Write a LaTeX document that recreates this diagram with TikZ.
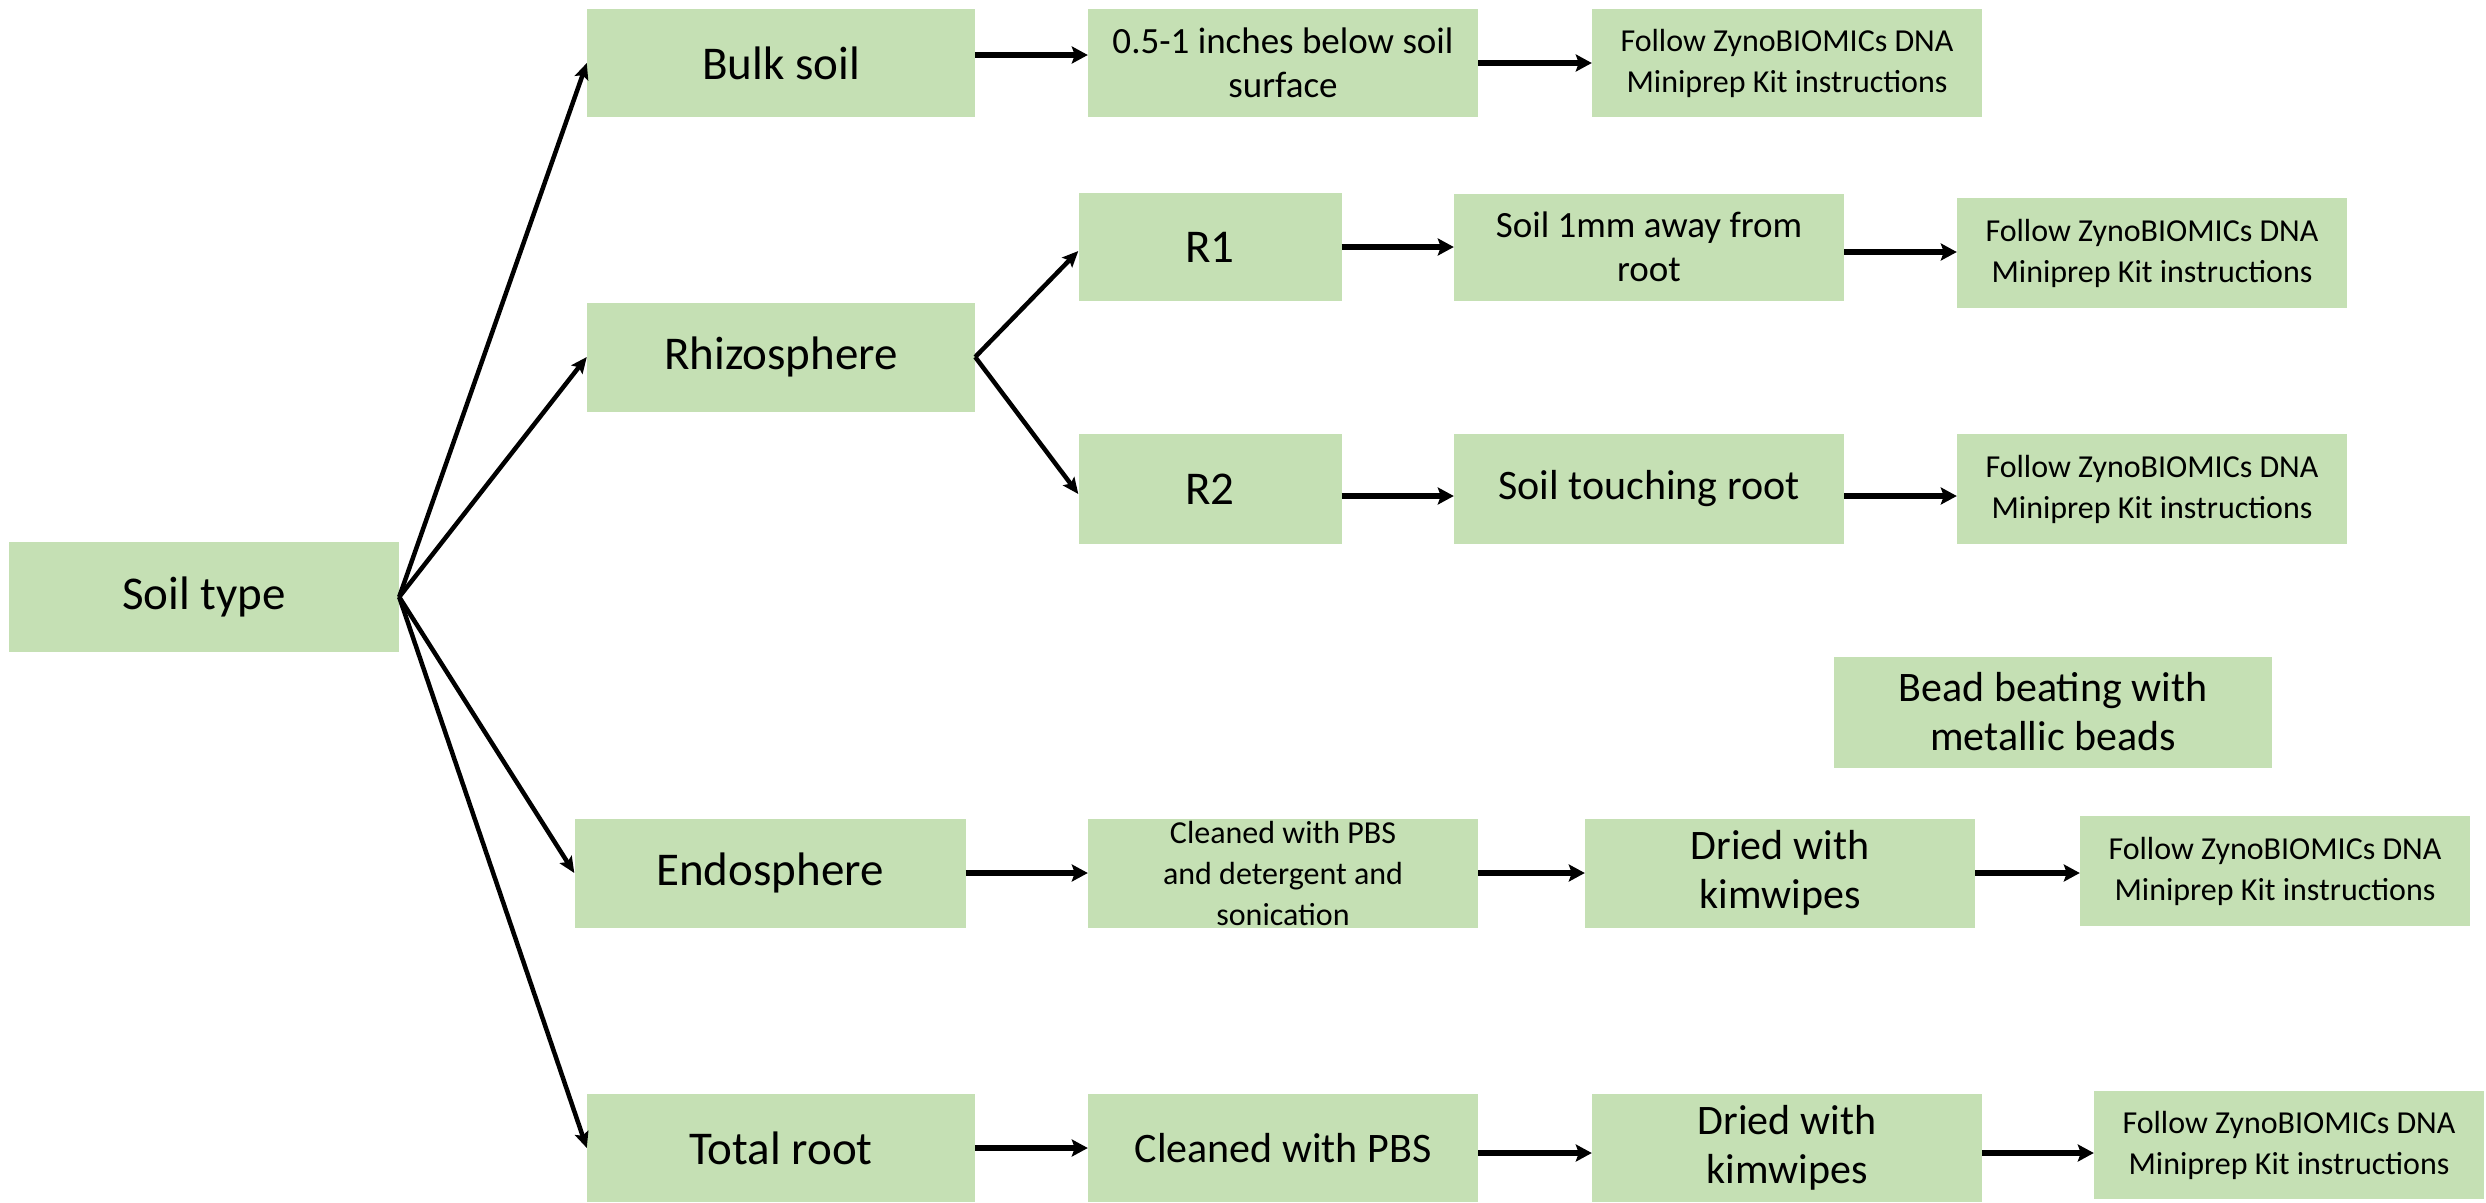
\documentclass[tikz,border=0pt]{standalone}
\usepackage{fontspec}
\setmainfont{Carlito}
\usetikzlibrary{arrows.meta}
\definecolor{boxgreen}{HTML}{C5E0B4}
\begin{document}
\begin{tikzpicture}[x=1pt,y=-1pt,
  box/.style={fill=boxgreen, inner sep=0pt, align=center, text=black},
  big/.style={box, font=\fontsize{47}{56}\selectfont},
  mid/.style={box, font=\fontsize{42}{49}\selectfont},
  sml/.style={box, font=\fontsize{37}{44}\selectfont},
  tiny/.style={box, font=\fontsize{32}{41}\selectfont},
  diag/.style={-{Stealth[length=16pt,width=14pt,inset=3pt]}, line width=4.5pt},
  flow/.style={-{Stealth[length=16pt,width=17pt,inset=3pt]}, line width=6pt},
]
\useasboundingbox (0,0) rectangle (2486,1202);
% column 1
\node[big, minimum width=390, minimum height=110] (soil) at (204,597) {Soil type};
% column 2
\node[big, minimum width=388, minimum height=108] (bulk) at (781,63) {Bulk soil};
\node[big, minimum width=388, minimum height=109] (rhizo) at (781,357) {Rhizosphere};
\node[big, minimum width=391, minimum height=109] (endo) at (770,873) {Endosphere};
\node[big, minimum width=388, minimum height=108] (total) at (781,1148) {Total root};
% row bulk
\node[sml, minimum width=390, minimum height=108] (inch) at (1283,63) {0.5-1 inches below soil\\surface};
\node[tiny, minimum width=390, minimum height=108] (fol1) at (1787,63) {Follow ZynoBIOMICs DNA\\Miniprep Kit instructions};
% rhizosphere
\node[big, minimum width=263, minimum height=108] (r1) at (1210,247) {R1};
\node[big, minimum width=263, minimum height=110] (r2) at (1210,489) {R2};
\node[sml, minimum width=390, minimum height=107] (away) at (1649,247) {Soil 1mm away from\\root};
\node[mid, minimum width=390, minimum height=110] (touch) at (1649,489) {Soil touching root};
\node[tiny, minimum width=390, minimum height=110] (fol2) at (2152,253) {Follow ZynoBIOMICs DNA\\Miniprep Kit instructions};
\node[tiny, minimum width=390, minimum height=110] (fol3) at (2152,489) {Follow ZynoBIOMICs DNA\\Miniprep Kit instructions};
% bead beating
\node[mid, minimum width=438, minimum height=111] (bead) at (2053,712) {Bead beating with\\metallic beads};
% endosphere row
\node[tiny, minimum width=390, minimum height=109] (clean1) at (1283,873) {Cleaned with PBS\\and detergent and\\sonication};
\node[mid, minimum width=390, minimum height=109] (dry1) at (1780,873) {Dried with\\kimwipes};
\node[tiny, minimum width=390, minimum height=110] (fol4) at (2275,871) {Follow ZynoBIOMICs DNA\\Miniprep Kit instructions};
% total root row
\node[mid, minimum width=390, minimum height=108] (clean2) at (1283,1148) {Cleaned with PBS};
\node[mid, minimum width=390, minimum height=108] (dry2) at (1787,1148) {Dried with\\kimwipes};
\node[tiny, minimum width=390, minimum height=108] (fol5) at (2289,1145) {Follow ZynoBIOMICs DNA\\Miniprep Kit instructions};
% diagonal arrows
\draw[diag] (soil.east) -- (bulk.west);
\draw[diag] (soil.east) -- (rhizo.west);
\draw[diag] (soil.east) -- (endo.west);
\draw[diag] (soil.east) -- (total.west);
\draw[diag] (rhizo.east) -- ([yshift=-4pt]r1.west);
\draw[diag] (rhizo.east) -- ([yshift=-5pt]r2.west);
% horizontal arrows
\draw[flow] ([yshift=8pt]bulk.east) -- ([yshift=8pt]bulk.east -| inch.west);
\draw[flow] (inch.east) -- (inch.east -| fol1.west);
\draw[flow] (r1.east) -- (r1.east -| away.west);
\draw[flow] ([yshift=-5pt]away.east) -- ([yshift=-5pt]away.east -| fol2.west);
\draw[flow] ([yshift=-7pt]r2.east) -- ([yshift=-7pt]r2.east -| touch.west);
\draw[flow] ([yshift=-7pt]touch.east) -- ([yshift=-7pt]touch.east -| fol3.west);
\draw[flow] (endo.east) -- (endo.east -| clean1.west);
\draw[flow] (clean1.east) -- (clean1.east -| dry1.west);
\draw[flow] (dry1.east) -- (dry1.east -| fol4.west);
\draw[flow] (total.east) -- (total.east -| clean2.west);
\draw[flow] ([yshift=-5pt]clean2.east) -- ([yshift=-5pt]clean2.east -| dry2.west);
\draw[flow] ([yshift=-5pt]dry2.east) -- ([yshift=-5pt]dry2.east -| fol5.west);
\end{tikzpicture}
\end{document}
